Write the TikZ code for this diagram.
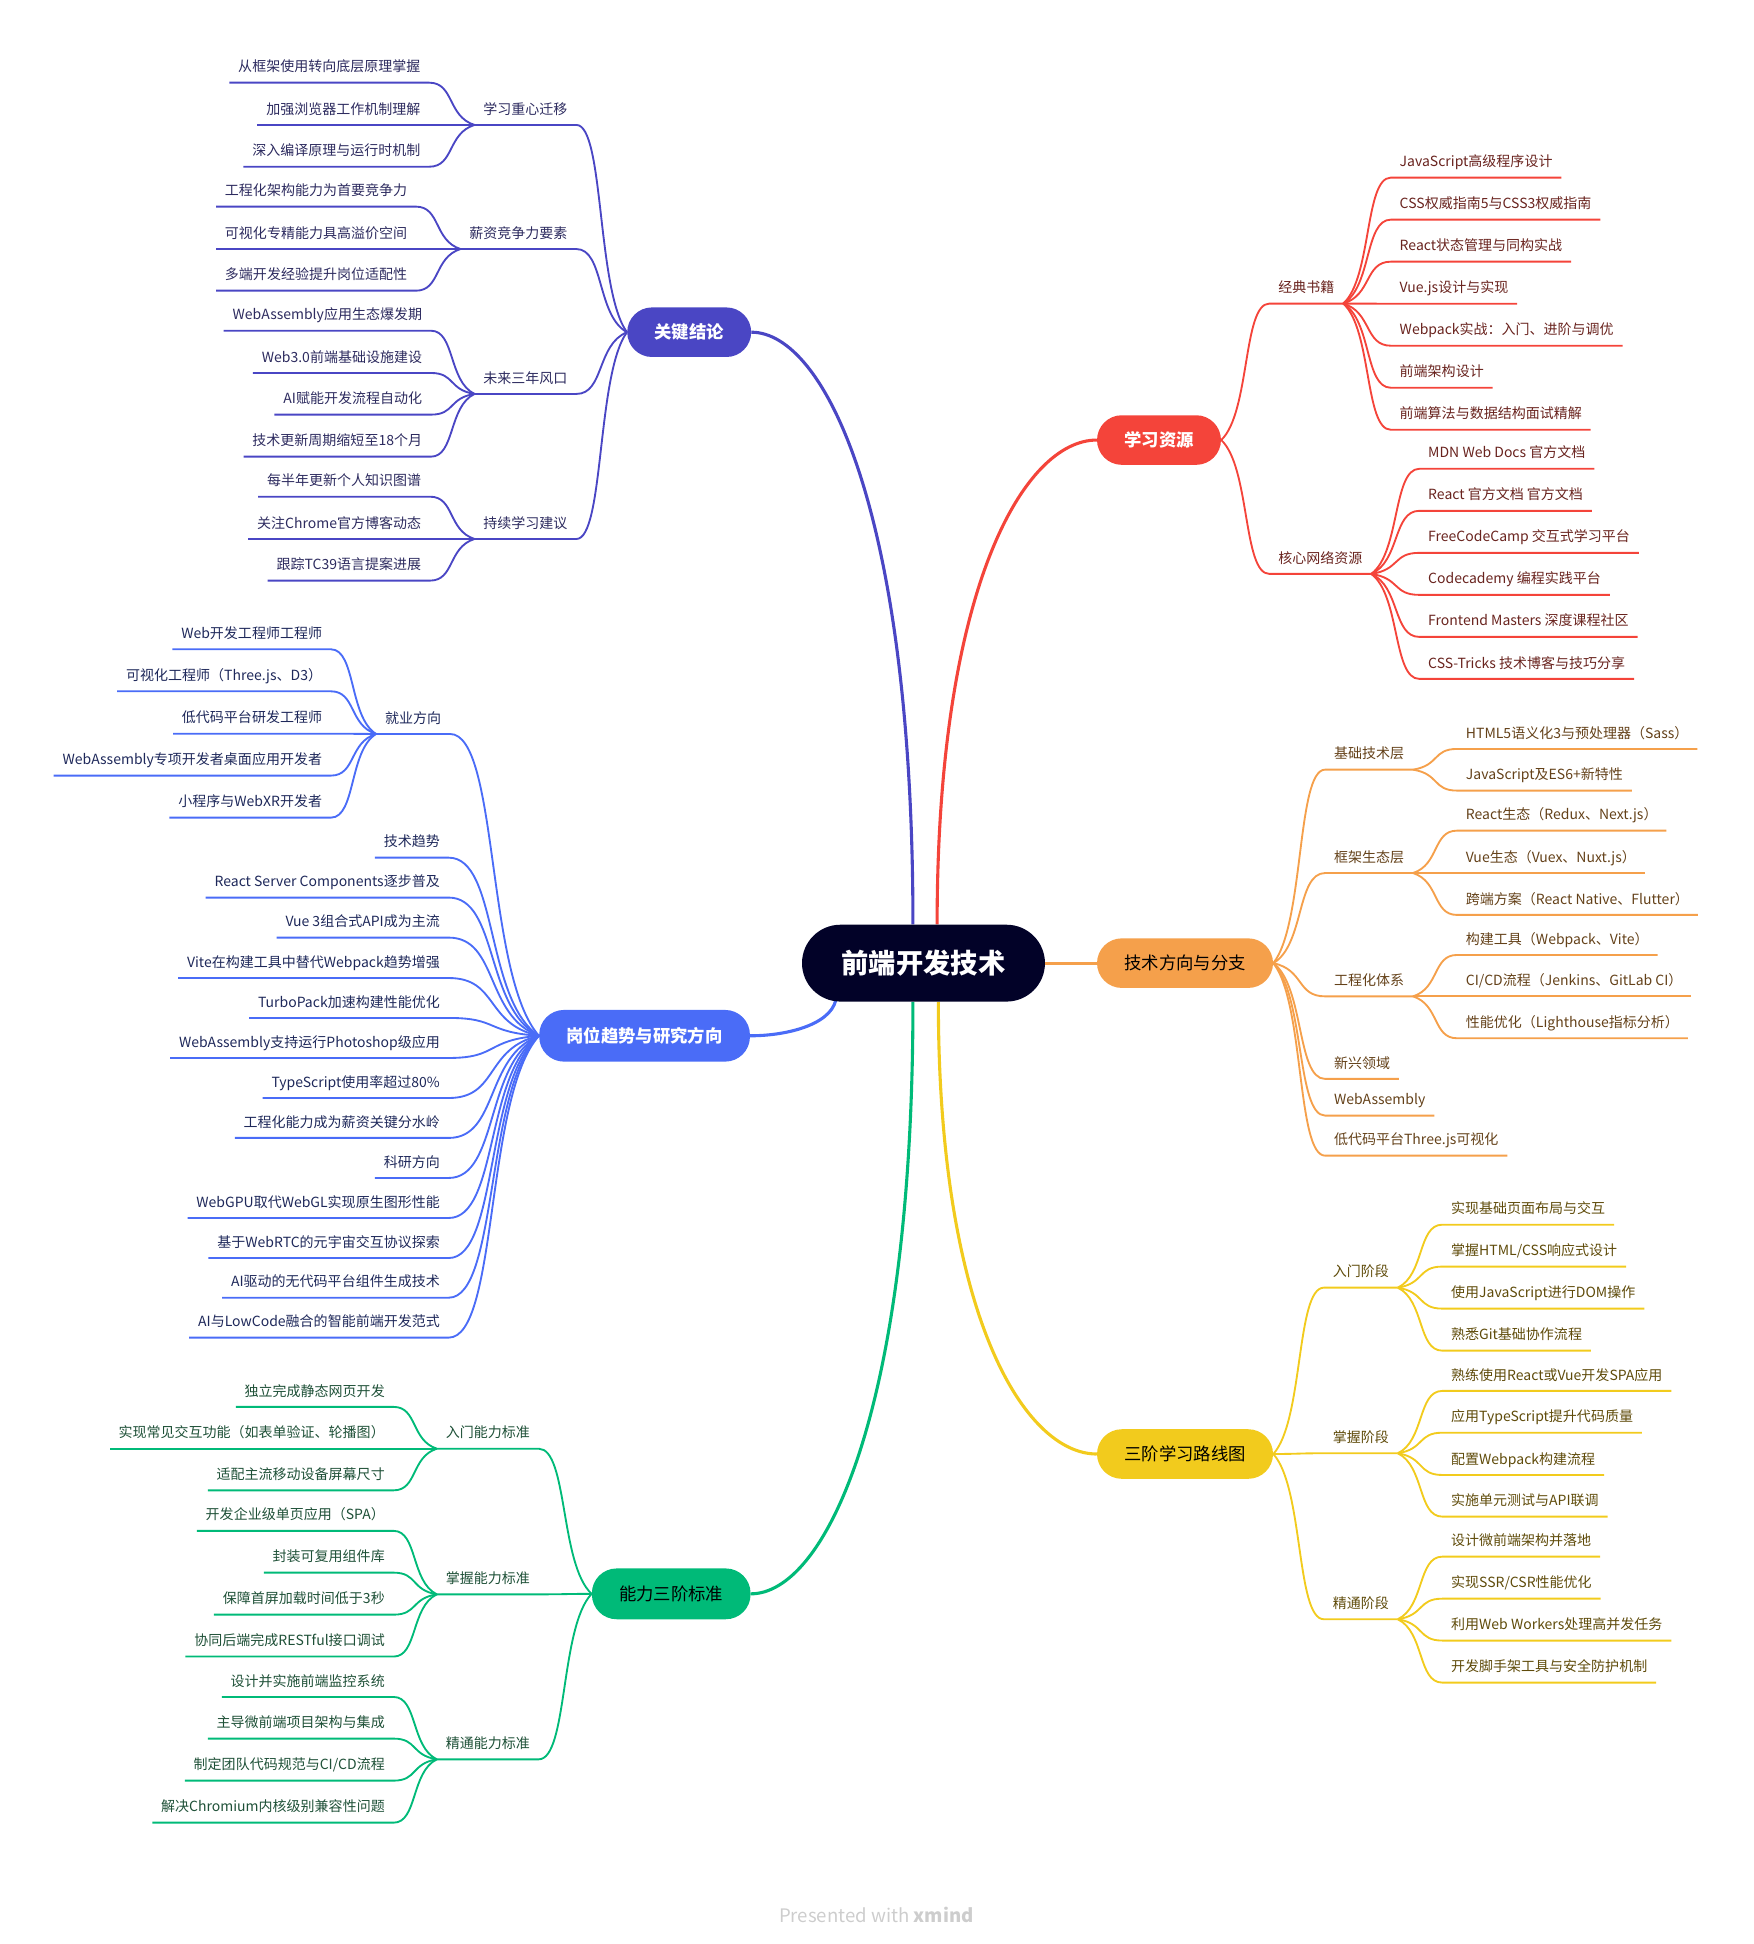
\documentclass[tikz,border=0pt]{standalone}
\usepackage{fontspec}
\setmainfont{Noto Sans CJK SC}
\usetikzlibrary{calc,backgrounds}

\definecolor{rootc}{RGB}{2,2,40}
\definecolor{keyc}{RGB}{74,70,196}
\definecolor{keyt}{RGB}{45,43,95}
\definecolor{resc}{RGB}{244,68,58}
\definecolor{rest}{RGB}{105,35,30}
\definecolor{techc}{RGB}{245,160,75}
\definecolor{techt}{RGB}{100,65,25}
\definecolor{roadc}{RGB}{242,203,29}
\definecolor{roadt}{RGB}{95,75,10}
\definecolor{jobc}{RGB}{74,108,247}
\definecolor{jobt}{RGB}{30,40,90}
\definecolor{abilc}{RGB}{0,186,120}
\definecolor{abilt}{RGB}{30,80,55}
\definecolor{footc}{RGB}{205,205,205}

\tikzset{
  topic/.style={rounded corners=20pt, minimum height=40pt, inner xsep=22pt, font=\fontsize{14}{16}\selectfont},
  boldtopic/.style={topic, text=white, font=\fontsize{14}{16}\selectfont\bfseries},
  sub/.style={inner xsep=7pt, inner ysep=0pt, text height=10pt, text depth=8.6pt, font=\fontsize{11.3}{13}\selectfont},
  link/.style={to path={let \p1=(\tikztostart), \p2=(\tikztotarget) in
    .. controls ({\x1+0.6*(\x2-\x1)},{\y1+0.2*(\y2-\y1)}) and ({\x1+0.45*(\x2-\x1)},\y2) .. (\tikztotarget)}},
  bough/.style={to path={let \p1=(\tikztostart), \p2=(\tikztotarget) in
    .. controls (\x1,{\y1+0.7*(\y2-\y1)}) and ({\x2-0.45*(\x2-\x1)},\y2) .. (\tikztotarget)}},
  mainline/.style={line width=2.5pt},
  twig/.style={line width=1.5pt, line join=round},
}

\begin{document}
\begin{tikzpicture}[x=1pt, y=-1pt]
	\useasboundingbox (0,0) rectangle (1415,1568.3);

	\node[fill=rootc, text=white, rounded corners=31pt, minimum width=196pt, minimum height=62pt, font=\fontsize{22}{24}\selectfont\bfseries] (root) at (745,777) {前端开发技术};

	\node[boldtopic, fill=keyc] (key) at (556,268) {关键结论};
	\node[sub, text=keyt, anchor=south east] (key1) at (465,100.8) {学习重心迁移};
	\node[sub, text=keyt, anchor=south east] (key2) at (465,200.9) {薪资竞争力要素};
	\node[sub, text=keyt, anchor=south east] (key3) at (465,317.8) {未来三年风口};
	\node[sub, text=keyt, anchor=south east] (key4) at (465,434.8) {持续学习建议};
	\node[sub, text=keyt, anchor=south east] (key1a) at (346.3,66.7) {从框架使用转向底层原理掌握};
	\node[sub, text=keyt, anchor=south east] (key1b) at (346.3,100.8) {加强浏览器工作机制理解};
	\node[sub, text=keyt, anchor=south east] (key1c) at (346.3,134.5) {深入编译原理与运行时机制};
	\node[sub, text=keyt, anchor=south east] (key2a) at (335.6,166.7) {工程化架构能力为首要竞争力};
	\node[sub, text=keyt, anchor=south east] (key2b) at (335.6,200.9) {可视化专精能力具高溢价空间};
	\node[sub, text=keyt, anchor=south east] (key2c) at (335.6,234.5) {多端开发经验提升岗位适配性};
	\node[sub, text=keyt, anchor=south east] (key3a) at (347.7,266.8) {WebAssembly应用生态爆发期};
	\node[sub, text=keyt, anchor=south east] (key3b) at (347.7,300.9) {Web3.0前端基础设施建设};
	\node[sub, text=keyt, anchor=south east] (key3c) at (347.7,334.5) {AI赋能开发流程自动化};
	\node[sub, text=keyt, anchor=south east] (key3d) at (347.7,368.4) {技术更新周期缩短至18个月};
	\node[sub, text=keyt, anchor=south east] (key4a) at (347,400.7) {每半年更新个人知识图谱};
	\node[sub, text=keyt, anchor=south east] (key4b) at (347,434.8) {关注Chrome官方博客动态};
	\node[sub, text=keyt, anchor=south east] (key4c) at (347,468.4) {跟踪TC39语言提案进展};

	\node[boldtopic, fill=jobc, minimum height=41.7pt] (job) at (520,835.6) {岗位趋势与研究方向};
	\node[sub, text=jobt, anchor=south east] (job1) at (363,592.1) {就业方向};
	\node[sub, text=jobt, anchor=south east] (job1a) at (267,523.8) {Web开发工程师工程师};
	\node[sub, text=jobt, anchor=south east] (job1b) at (267,557.7) {可视化工程师（Three.js、D3）};
	\node[sub, text=jobt, anchor=south east] (job1c) at (267,591.9) {低代码平台研发工程师};
	\node[sub, text=jobt, anchor=south east] (job1d) at (267,625.7) {WebAssembly专项开发者桌面应用开发者};
	\node[sub, text=jobt, anchor=south east] (job1e) at (267,659.6) {小程序与WebXR开发者};
	\node[sub, text=jobt, anchor=south east] (job2) at (362,691.9) {技术趋势};
	\node[sub, text=jobt, anchor=south east] (job3) at (362,724.1) {React Server Components逐步普及};
	\node[sub, text=jobt, anchor=south east] (job4) at (362,756.4) {Vue 3组合式API成为主流};
	\node[sub, text=jobt, anchor=south east] (job5) at (362,789) {Vite在构建工具中替代Webpack趋势增强};
	\node[sub, text=jobt, anchor=south east] (job6) at (362,821.2) {TurboPack加速构建性能优化};
	\node[sub, text=jobt, anchor=south east] (job7) at (362,853.5) {WebAssembly支持运行Photoshop级应用};
	\node[sub, text=jobt, anchor=south east] (job8) at (362,885.8) {TypeScript使用率超过80\%};
	\node[sub, text=jobt, anchor=south east] (job9) at (362,918) {工程化能力成为薪资关键分水岭};
	\node[sub, text=jobt, anchor=south east] (job10) at (362,950.3) {科研方向};
	\node[sub, text=jobt, anchor=south east] (job11) at (362,982.6) {WebGPU取代WebGL实现原生图形性能};
	\node[sub, text=jobt, anchor=south east] (job12) at (362,1014.9) {基于WebRTC的元宇宙交互协议探索};
	\node[sub, text=jobt, anchor=south east] (job13) at (362,1046.9) {AI驱动的无代码平台组件生成技术};
	\node[sub, text=jobt, anchor=south east] (job14) at (362,1079.1) {AI与LowCode融合的智能前端开发范式};

	\node[topic, fill=abilc, text=black, minimum height=41pt] (abil) at (541.5,1285.8) {能力三阶标准};
	\node[sub, text=abilt, anchor=south east] (abil1) at (434.6,1168.7) {入门能力标准};
	\node[sub, text=abilt, anchor=south east] (abil2) at (434.6,1286.2) {掌握能力标准};
	\node[sub, text=abilt, anchor=south east] (abil3) at (434.6,1419.3) {精通能力标准};
	\node[sub, text=abilt, anchor=south east] (abil1a) at (317.6,1135) {独立完成静态网页开发};
	\node[sub, text=abilt, anchor=south east] (abil1b) at (317.6,1168.7) {实现常见交互功能（如表单验证、轮播图）};
	\node[sub, text=abilt, anchor=south east] (abil1c) at (317.6,1202.3) {适配主流移动设备屏幕尺寸};
	\node[sub, text=abilt, anchor=south east] (abil2a) at (317.6,1235) {开发企业级单页应用（SPA）};
	\node[sub, text=abilt, anchor=south east] (abil2b) at (317.6,1268.7) {封装可复用组件库};
	\node[sub, text=abilt, anchor=south east] (abil2c) at (317.6,1302.6) {保障首屏加载时间低于3秒};
	\node[sub, text=abilt, anchor=south east] (abil2d) at (317.6,1336.4) {协同后端完成RESTful接口调试};
	\node[sub, text=abilt, anchor=south east] (abil3a) at (317.6,1369) {设计并实施前端监控系统};
	\node[sub, text=abilt, anchor=south east] (abil3b) at (317.6,1402.6) {主导微前端项目架构与集成};
	\node[sub, text=abilt, anchor=south east] (abil3c) at (317.6,1436.5) {制定团队代码规范与CI/CD流程};
	\node[sub, text=abilt, anchor=south east] (abil3d) at (317.6,1470.4) {解决Chromium内核级别兼容性问题};

	\node[boldtopic, fill=resc] (res) at (935,355) {学习资源};
	\node[sub, text=rest, anchor=south west] (res1) at (1024,244.9) {经典书籍};
	\node[sub, text=rest, anchor=south west] (res2) at (1024,463) {核心网络资源};
	\node[sub, text=rest, anchor=south west] (res1a) at (1122,143.3) {JavaScript高级程序设计};
	\node[sub, text=rest, anchor=south west] (res1b) at (1122,177.2) {CSS权威指南5与CSS3权威指南};
	\node[sub, text=rest, anchor=south west] (res1c) at (1122,211.1) {React状态管理与同构实战};
	\node[sub, text=rest, anchor=south west] (res1d) at (1122,245) {Vue.js设计与实现};
	\node[sub, text=rest, anchor=south west] (res1e) at (1122,278.9) {Webpack实战：入门、进阶与调优};
	\node[sub, text=rest, anchor=south west] (res1f) at (1122,312.8) {前端架构设计};
	\node[sub, text=rest, anchor=south west] (res1g) at (1122,346.7) {前端算法与数据结构面试精解};
	\node[sub, text=rest, anchor=south west] (res2a) at (1145,378.2) {MDN Web Docs 官方文档};
	\node[sub, text=rest, anchor=south west] (res2b) at (1145,412.1) {React 官方文档 官方文档};
	\node[sub, text=rest, anchor=south west] (res2c) at (1145,446) {FreeCodeCamp 交互式学习平台};
	\node[sub, text=rest, anchor=south west] (res2d) at (1145,479.9) {Codecademy 编程实践平台};
	\node[sub, text=rest, anchor=south west] (res2e) at (1145,513.8) {Frontend Masters 深度课程社区};
	\node[sub, text=rest, anchor=south west] (res2f) at (1145,547.7) {CSS-Tricks 技术博客与技巧分享};

	\node[topic, fill=techc, text=black] (tech) at (956,777) {技术方向与分支};
	\node[sub, text=techt, anchor=south west] (tech1) at (1069,620.9) {基础技术层};
	\node[sub, text=techt, anchor=south west] (tech2) at (1069,704.3) {框架生态层};
	\node[sub, text=techt, anchor=south west] (tech3) at (1069,803.8) {工程化体系};
	\node[sub, text=techt, anchor=south west] (tech4) at (1069,870.4) {新兴领域};
	\node[sub, text=techt, anchor=south west] (tech5) at (1069,900) {WebAssembly};
	\node[sub, text=techt, anchor=south west] (tech6) at (1069,932.3) {低代码平台Three.js可视化};
	\node[sub, text=techt, anchor=south west] (tech1a) at (1175.4,604.2) {HTML5语义化3与预处理器（Sass）};
	\node[sub, text=techt, anchor=south west] (tech1b) at (1175.4,637.8) {JavaScript及ES6+新特性};
	\node[sub, text=techt, anchor=south west] (tech2a) at (1175.4,670.1) {React生态（Redux、Next.js）};
	\node[sub, text=techt, anchor=south west] (tech2b) at (1175.4,704.3) {Vue生态（Vuex、Nuxt.js）};
	\node[sub, text=techt, anchor=south west] (tech2c) at (1175.4,738.1) {跨端方案（React Native、Flutter）};
	\node[sub, text=techt, anchor=south west] (tech3a) at (1175.4,770.4) {构建工具（Webpack、Vite）};
	\node[sub, text=techt, anchor=south west] (tech3b) at (1175.4,803.8) {CI/CD流程（Jenkins、GitLab CI）};
	\node[sub, text=techt, anchor=south west] (tech3c) at (1175.4,837.6) {性能优化（Lighthouse指标分析）};

	\node[topic, fill=roadc, text=black] (road) at (956,1173) {三阶学习路线图};
	\node[sub, text=roadt, anchor=south west] (road1) at (1068,1038.8) {入门阶段};
	\node[sub, text=roadt, anchor=south west] (road2) at (1068,1172.4) {掌握阶段};
	\node[sub, text=roadt, anchor=south west] (road3) at (1068,1306.3) {精通阶段};
	\node[sub, text=roadt, anchor=south west] (road1a) at (1163.5,988) {实现基础页面布局与交互};
	\node[sub, text=roadt, anchor=south west] (road1b) at (1163.5,1021.8) {掌握HTML/CSS响应式设计};
	\node[sub, text=roadt, anchor=south west] (road1c) at (1163.5,1055.7) {使用JavaScript进行DOM操作};
	\node[sub, text=roadt, anchor=south west] (road1d) at (1163.5,1089.6) {熟悉Git基础协作流程};
	\node[sub, text=roadt, anchor=south west] (road2a) at (1163.5,1122.1) {熟练使用React或Vue开发SPA应用};
	\node[sub, text=roadt, anchor=south west] (road2b) at (1163.5,1155.8) {应用TypeScript提升代码质量};
	\node[sub, text=roadt, anchor=south west] (road2c) at (1163.5,1189.9) {配置Webpack构建流程};
	\node[sub, text=roadt, anchor=south west] (road2d) at (1163.5,1223.5) {实施单元测试与API联调};
	\node[sub, text=roadt, anchor=south west] (road3a) at (1163.5,1255.8) {设计微前端架构并落地};
	\node[sub, text=roadt, anchor=south west] (road3b) at (1163.5,1289.7) {实现SSR/CSR性能优化};
	\node[sub, text=roadt, anchor=south west] (road3c) at (1163.5,1323.5) {利用Web Workers处理高并发任务};
	\node[sub, text=roadt, anchor=south west] (road3d) at (1163.5,1357.4) {开发脚手架工具与安全防护机制};

	\node[text=footc, font=\fontsize{15}{17}\selectfont] (foot) at (707,1545) {Presented with \textbf{xmind}};

	\begin{scope}[on background layer]
		\draw[mainline, keyc] ([xshift=-8.5pt]root.north) to[bough] (key.east);
		\draw[mainline, resc] ([xshift=11pt]root.north) to[bough] (res.west);
		\draw[mainline, techc] (root.east) -- (tech.west);
		\draw[mainline, roadc] ([xshift=12pt]root.south) to[bough] (road.west);
		\draw[mainline, abilc] ([xshift=-8.5pt]root.south) to[bough] (abil.east);
		\draw[mainline, jobc] ([xshift=28pt, yshift=6pt]root.south west) to[bough] (job.east);
	\end{scope}

	\foreach \nd in {key1,key2,key3,key4}
		\draw[twig, keyc] (key.west) to[link] (\nd.south east) -- (\nd.south west);
	\foreach \nd in {key1a,key1b,key1c}
		\draw[twig, keyc] (key1.south west) to[link] (\nd.south east) -- (\nd.south west);
	\foreach \nd in {key2a,key2b,key2c}
		\draw[twig, keyc] (key2.south west) to[link] (\nd.south east) -- (\nd.south west);
	\foreach \nd in {key3a,key3b,key3c,key3d}
		\draw[twig, keyc] (key3.south west) to[link] (\nd.south east) -- (\nd.south west);
	\foreach \nd in {key4a,key4b,key4c}
		\draw[twig, keyc] (key4.south west) to[link] (\nd.south east) -- (\nd.south west);

	\foreach \nd in {job1,job2,job3,job4,job5,job6,job7,job8,job9,job10,job11,job12,job13,job14}
		\draw[twig, jobc] (job.west) to[link] (\nd.south east) -- (\nd.south west);
	\foreach \nd in {job1a,job1b,job1c,job1d,job1e}
		\draw[twig, jobc] (job1.south west) to[link] (\nd.south east) -- (\nd.south west);

	\foreach \nd in {abil1,abil2,abil3}
		\draw[twig, abilc] (abil.west) to[link] (\nd.south east) -- (\nd.south west);
	\foreach \nd in {abil1a,abil1b,abil1c}
		\draw[twig, abilc] (abil1.south west) to[link] (\nd.south east) -- (\nd.south west);
	\foreach \nd in {abil2a,abil2b,abil2c,abil2d}
		\draw[twig, abilc] (abil2.south west) to[link] (\nd.south east) -- (\nd.south west);
	\foreach \nd in {abil3a,abil3b,abil3c,abil3d}
		\draw[twig, abilc] (abil3.south west) to[link] (\nd.south east) -- (\nd.south west);

	\foreach \nd in {res1,res2}
		\draw[twig, resc] (res.east) to[link] (\nd.south west) -- (\nd.south east);
	\foreach \nd in {res1a,res1b,res1c,res1d,res1e,res1f,res1g}
		\draw[twig, resc] (res1.south east) to[link] (\nd.south west) -- (\nd.south east);
	\foreach \nd in {res2a,res2b,res2c,res2d,res2e,res2f}
		\draw[twig, resc] (res2.south east) to[link] (\nd.south west) -- (\nd.south east);

	\foreach \nd in {tech1,tech2,tech3,tech4,tech5,tech6}
		\draw[twig, techc] (tech.east) to[link] (\nd.south west) -- (\nd.south east);
	\foreach \nd in {tech1a,tech1b}
		\draw[twig, techc] (tech1.south east) to[link] (\nd.south west) -- (\nd.south east);
	\foreach \nd in {tech2a,tech2b,tech2c}
		\draw[twig, techc] (tech2.south east) to[link] (\nd.south west) -- (\nd.south east);
	\foreach \nd in {tech3a,tech3b,tech3c}
		\draw[twig, techc] (tech3.south east) to[link] (\nd.south west) -- (\nd.south east);

	\foreach \nd in {road1,road2,road3}
		\draw[twig, roadc] (road.east) to[link] (\nd.south west) -- (\nd.south east);
	\foreach \nd in {road1a,road1b,road1c,road1d}
		\draw[twig, roadc] (road1.south east) to[link] (\nd.south west) -- (\nd.south east);
	\foreach \nd in {road2a,road2b,road2c,road2d}
		\draw[twig, roadc] (road2.south east) to[link] (\nd.south west) -- (\nd.south east);
	\foreach \nd in {road3a,road3b,road3c,road3d}
		\draw[twig, roadc] (road3.south east) to[link] (\nd.south west) -- (\nd.south east);
\end{tikzpicture}
\end{document}
